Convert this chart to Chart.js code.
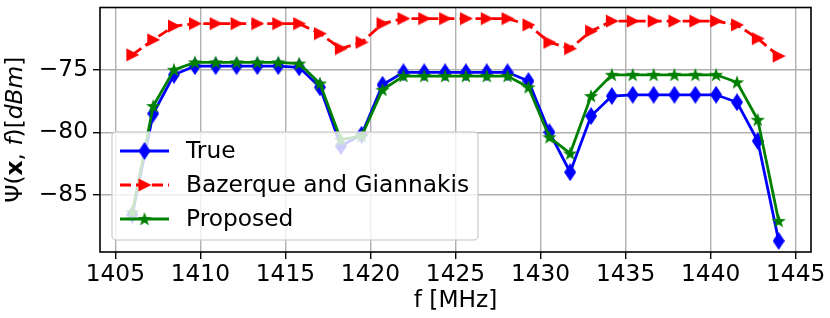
<!DOCTYPE html>
<html>
<head>
<meta charset="utf-8">
<script src="https://cdn.jsdelivr.net/npm/chart.js"></script>
<style>
  body { margin: 0; background: #fff; }
  canvas { display: block; }
</style>
</head>
<body>
<canvas id="myChart" width="830" height="318"></canvas>
<script>
// frequencies (MHz), 32 channels
const freqs = [1406.00, 1407.23, 1408.45, 1409.68, 1410.90, 1412.13, 1413.35, 1414.58,
  1415.81, 1417.03, 1418.26, 1419.48, 1420.71, 1421.94, 1423.16, 1424.39,
  1425.61, 1426.84, 1428.06, 1429.29, 1430.52, 1431.74, 1432.97, 1434.19,
  1435.42, 1436.65, 1437.87, 1439.10, 1440.32, 1441.55, 1442.77, 1444.00];

const trueVals = [-86.6, -78.5, -75.4, -74.7, -74.7, -74.7, -74.7, -74.7,
  -74.8, -76.4, -81.1, -80.2, -76.2, -75.2, -75.2, -75.2,
  -75.2, -75.2, -75.2, -75.9, -80.0, -83.2, -78.7, -77.1,
  -77.0, -77.0, -77.0, -77.0, -77.0, -77.6, -80.7, -88.7];

const bazerqueVals = [-73.8, -72.6, -71.5, -71.3, -71.3, -71.3, -71.3, -71.3,
  -71.3, -72.1, -73.3, -72.8, -71.3, -70.9, -70.9, -70.9,
  -70.9, -70.9, -70.9, -71.4, -72.8, -73.3, -71.9, -71.1,
  -71.1, -71.1, -71.1, -71.1, -71.1, -71.4, -72.5, -73.9];

const proposedVals = [-86.4, -77.9, -75.0, -74.4, -74.4, -74.4, -74.4, -74.4,
  -74.5, -76.1, -80.6, -80.3, -76.6, -75.5, -75.5, -75.5,
  -75.5, -75.5, -75.5, -76.4, -80.4, -81.7, -77.1, -75.4,
  -75.4, -75.4, -75.4, -75.4, -75.4, -76.0, -79.0, -87.1];

const xTicks = [1405, 1410, 1415, 1420, 1425, 1430, 1435, 1440, 1445];
const yTicks = [-85, -80, -75];

const FONT = 'DejaVu Sans';
const FS = 23.3;

// marker images
function makeMarker(w, h, draw) {
    const c = document.createElement('canvas');
    c.width = w; c.height = h;
    draw(c.getContext('2d'), w, h);
    return c;
}
const diamondBlue = makeMarker(12, 18, (g, w, h) => {
    g.fillStyle = '#0000ff';
    g.beginPath();
    g.moveTo(w / 2, 0); g.lineTo(w, h / 2); g.lineTo(w / 2, h); g.lineTo(0, h / 2);
    g.closePath(); g.fill();
});
const triangleRed = makeMarker(14, 14, (g, w, h) => {
    g.fillStyle = '#ff0000';
    g.beginPath();
    g.moveTo(1, 0.5); g.lineTo(w, h / 2); g.lineTo(1, h - 0.5);
    g.closePath(); g.fill();
});
const starGreen = makeMarker(16, 16, (g, w, h) => {
    g.fillStyle = '#008000';
    g.beginPath();
    const cx = w / 2, cy = h / 2 + 0.5, ro = 7.5, ri = 3.0;
    for (let i = 0; i < 10; i++) {
        const r = i % 2 === 0 ? ro : ri;
        const a = -Math.PI / 2 + i * Math.PI / 5;
        const px = cx + r * Math.cos(a), py = cy + r * Math.sin(a);
        if (i === 0) g.moveTo(px, py); else g.lineTo(px, py);
    }
    g.closePath(); g.fill();
});

const toPoints = vals => freqs.map((f, i) => ({ x: f, y: vals[i] }));
const minus = v => (v < 0 ? '\u2212' : '') + Math.abs(v);

// frame + legend + y title
const extras = {
    id: 'extras',
    afterDatasetsDraw(chart) {
        const ctx = chart.ctx;
        const lx = 112, ly = 132, lw = 366, lh = 108;
        ctx.save();
        ctx.beginPath();
        ctx.roundRect(lx, ly, lw, lh, 4);
        ctx.fillStyle = 'rgba(255,255,255,0.8)';
        ctx.fill();
        ctx.strokeStyle = 'rgba(204,204,204,0.8)';
        ctx.lineWidth = 1.5;
        ctx.stroke();
        const rows = [
            { label: 'True', color: '#0000ff', dash: [], marker: diamondBlue, y: 151 },
            { label: 'Bazerque and Giannakis', color: '#ff0000', dash: [11, 5], marker: triangleRed, y: 185 },
            { label: 'Proposed', color: '#008000', dash: [], marker: starGreen, y: 219 }
        ];
        ctx.font = FS + 'px "' + FONT + '"';
        ctx.textBaseline = 'middle';
        ctx.textAlign = 'left';
        rows.forEach(r => {
            ctx.strokeStyle = r.color;
            ctx.lineWidth = 2.8;
            ctx.setLineDash(r.dash);
            ctx.beginPath();
            ctx.moveTo(120, r.y); ctx.lineTo(169, r.y);
            ctx.stroke();
            ctx.setLineDash([]);
            ctx.drawImage(r.marker, 144.5 - r.marker.width / 2, r.y - r.marker.height / 2);
            ctx.fillStyle = '#000';
            ctx.fillText(r.label, 186, r.y + 1);
        });
        ctx.restore();
    },
    afterDraw(chart) {
        const ctx = chart.ctx;
        const a = chart.chartArea;
        ctx.save();
        ctx.strokeStyle = '#000';
        ctx.lineWidth = 1.6;
        ctx.strokeRect(a.left, a.top, a.right - a.left, a.bottom - a.top);

        // y axis title: Ψ(x, f)[dBm] with mixed styles
        const reg = FS + 'px "' + FONT + '"';
        const parts = [
            { t: 'Ψ(', f: reg },
            { t: 'x', f: 'bold ' + reg },
            { t: ', ', f: reg },
            { t: 'f', f: 'italic ' + reg },
            { t: ')[', f: reg },
            { t: 'dBm', f: 'italic ' + reg },
            { t: ']', f: reg }
        ];
        let total = 0;
        parts.forEach(p => { ctx.font = p.f; p.w = ctx.measureText(p.t).width; total += p.w; });
        ctx.translate(16, (a.top + a.bottom) / 2);
        ctx.rotate(-Math.PI / 2);
        ctx.fillStyle = '#000';
        ctx.textBaseline = 'middle';
        ctx.textAlign = 'left';
        let x = -total / 2;
        parts.forEach(p => { ctx.font = p.f; ctx.fillText(p.t, x, 0); x += p.w; });
        ctx.restore();
    }
};

const ctx = document.getElementById('myChart').getContext('2d');
const myChart = new Chart(ctx, {
    type: 'line',
    data: {
        datasets: [{
            label: 'True',
            data: toPoints(trueVals),
            borderColor: '#0000ff',
            borderWidth: 2.8,
            pointStyle: diamondBlue,
            order: 3
        }, {
            label: 'Bazerque and Giannakis',
            data: toPoints(bazerqueVals),
            borderColor: '#ff0000',
            borderWidth: 2.8,
            borderDash: [11, 5],
            pointStyle: triangleRed,
            order: 2
        }, {
            label: 'Proposed',
            data: toPoints(proposedVals),
            borderColor: '#008000',
            borderWidth: 2.8,
            pointStyle: starGreen,
            order: 1
        }]
    },
    options: {
        responsive: false,
        animation: false,
        devicePixelRatio: 1,
        layout: { padding: { left: 0, right: 19, top: 7.5, bottom: 0 } },
        plugins: { legend: { display: false }, tooltip: { enabled: false } },
        elements: { line: { tension: 0, fill: false } },
        scales: {
            x: {
                type: 'linear',
                min: 1404.1,
                max: 1445.9,
                afterFit: s => { s.height = 66; s.paddingLeft = 0; s.paddingRight = 0; },
                afterBuildTicks: s => { s.ticks = xTicks.map(v => ({ value: v })); },
                border: { display: false },
                grid: { color: '#b0b0b0', lineWidth: 1.4, tickColor: '#000', tickLength: 7, tickWidth: 1.4 },
                ticks: { font: { family: FONT, size: FS }, color: '#000', padding: 2, maxRotation: 0, autoSkip: false, callback: v => String(v) },
                title: { display: true, text: 'f [MHz]', font: { family: FONT, size: FS }, color: '#000', padding: { top: 0, bottom: 3 } }
            },
            y: {
                min: -89.59,
                max: -70.01,
                afterFit: s => { s.width = 100; s.paddingTop = 0; s.paddingBottom = 0; },
                afterBuildTicks: s => { s.ticks = yTicks.map(v => ({ value: v })); },
                border: { display: false },
                grid: { color: '#b0b0b0', lineWidth: 1.4, tickColor: '#000', tickLength: 7, tickWidth: 1.4 },
                ticks: { font: { family: FONT, size: FS }, color: '#000', padding: 5, callback: v => minus(v) }
            }
        }
    },
    plugins: [extras]
});
</script>
</body>
</html>
